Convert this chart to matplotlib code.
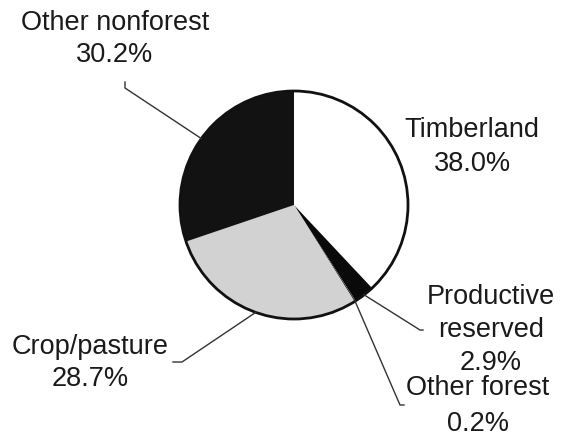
import numpy as np
import matplotlib
matplotlib.use("Agg")
import matplotlib.pyplot as plt
from matplotlib.patches import Circle

# ---- data ----
categories = ["Timberland", "Productive\nreserved", "Other forest", "Crop/pasture", "Other nonforest"]
values = [38.0, 2.9, 0.2, 28.7, 30.2]
colors = ["#ffffff", "#0a0a0a", "#3a3a3a", "#d2d2d2", "#121212"]

W, H = 561, 436
fig = plt.figure(figsize=(W / 100, H / 100), dpi=100)
ax = fig.add_axes([0, 0, 1, 1])

cx, cy, R = 294, 205, 114

# pie (y axis inverted -> counterclock True gives clockwise on screen)
wedges, _ = ax.pie(values, colors=colors, startangle=-90, counterclock=True,
                   center=(cx, cy), radius=R, frame=True,
                   wedgeprops=dict(linewidth=0, edgecolor="none"))
ax.set_xlim(0, W)
ax.set_ylim(H, 0)
ax.set_aspect("equal")
ax.axis("off")
ax.add_patch(Circle((cx, cy), R, fill=False, edgecolor="#111111", lw=2.0, zorder=5))

# mid-angle points on rim (clockwise from top)
cum = np.cumsum([0] + values)
mids = (cum[:-1] + cum[1:]) / 2 / 100 * 2 * np.pi
rim = [(cx + R * np.sin(a), cy - R * np.cos(a)) for a in mids]

fs = 19.5
font = dict(family="Liberation Sans", fontsize=fs, color="#1a1a1a", ha="center", va="center",
            linespacing=1.33)

ax.text(472, 147, "Timberland\n38.0%", **dict(font, linespacing=1.42))
ax.text(115, 39, "Other nonforest\n30.2%", **font)
ax.text(90, 363, "Crop/pasture\n28.7%", **font)
ax.text(491, 330, "Productive\nreserved\n2.9%", **font)
ax.text(478, 406, "Other forest\n0.2%", **dict(font, linespacing=1.5))

lk = dict(color="#333333", lw=1.0, zorder=6)
# Other nonforest
x0, y0 = rim[4]
ax.plot([x0, 125, 125], [y0, 88, 82], **lk)
# Crop/pasture
x0, y0 = rim[3]
ax.plot([x0, 182, 173], [y0, 362, 362], **lk)
# Productive reserved
x0, y0 = rim[1]
ax.plot([x0, 420, 423], [y0, 330, 330], **lk)
# Other forest
x0, y0 = rim[2]
ax.plot([x0, 400, 404], [y0, 405, 405], **lk)

fig.savefig("out.png", dpi=100, facecolor="white")
